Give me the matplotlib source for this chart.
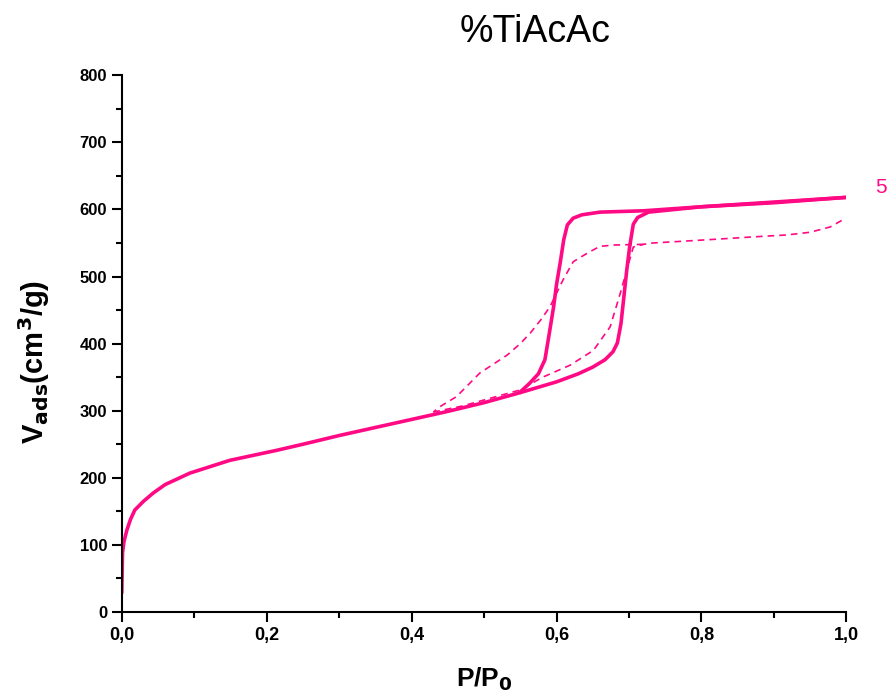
import numpy as np
import matplotlib.pyplot as plt
from matplotlib.ticker import MultipleLocator, FuncFormatter

# isoterma solida (adsorcion + desorcion)
ads_x = [0, 0.001, 0.003, 0.007, 0.012, 0.018, 0.03, 0.043, 0.06, 0.094, 0.149, 0.214,
         0.25, 0.3, 0.35, 0.4, 0.45, 0.5, 0.55, 0.6, 0.63, 0.65, 0.667, 0.678, 0.684,
         0.689, 0.693, 0.697, 0.701, 0.706, 0.712, 0.727, 0.8, 0.9, 1.0]
ads_y = [30, 88, 105, 122, 138, 152, 165, 177, 190, 207, 226, 241,
         250, 263, 275, 287, 299, 312, 327, 343, 355, 365, 376, 388, 401,
         430, 470, 510, 545, 578, 588, 596, 604, 611, 618]

des_x = [1.0, 0.9, 0.8, 0.72, 0.66, 0.635, 0.623, 0.615, 0.61, 0.605, 0.60,
         0.596, 0.59, 0.584, 0.575, 0.563, 0.55]
des_y = [618, 610, 604, 598, 596, 592, 587, 577, 555, 520, 488,
         455, 415, 376, 355, 341, 328]

# isoterma punteada
ads2_x = [0.43, 0.47, 0.5, 0.55, 0.581, 0.619, 0.651, 0.674, 0.688, 0.697, 0.706,
          0.72, 0.733, 0.78, 0.826, 0.87, 0.918, 0.95, 0.978, 0.999]
ads2_y = [298, 307, 316, 331, 350, 368, 390, 425, 475, 510, 544,
          548, 550, 553, 556, 559, 562, 566, 574, 587]

des2_x = [0.72, 0.68, 0.66, 0.646, 0.635, 0.623, 0.609, 0.6, 0.591, 0.578, 0.564,
          0.55, 0.532, 0.494, 0.462, 0.439, 0.43]
des2_y = [548, 547, 545, 537, 530, 522, 495, 475, 455, 435, 416,
          400, 383, 356, 321, 306, 298]

color = '#FF0A84'

fig = plt.figure(figsize=(8.89, 6.97), dpi=100)
ax = fig.add_axes([0.137, 0.122, 0.815, 0.770])

ax.plot(ads_x, ads_y, color=color, lw=2.6, solid_joinstyle='round')
ax.plot(des_x, des_y, color=color, lw=2.6, solid_joinstyle='round')
ax.plot(ads2_x, ads2_y, color=color, lw=1.2, ls=(0, (4, 3)))
ax.plot(des2_x, des2_y, color=color, lw=1.2, ls=(0, (4, 3)))

ax.set_xlim(0, 1.0)
ax.set_ylim(0, 800)
ax.spines['top'].set_visible(False)
ax.spines['right'].set_visible(False)
ax.spines['left'].set_linewidth(1.5)
ax.spines['bottom'].set_linewidth(1.5)

ax.xaxis.set_major_locator(MultipleLocator(0.2))
ax.xaxis.set_minor_locator(MultipleLocator(0.1))
ax.yaxis.set_major_locator(MultipleLocator(100))
ax.yaxis.set_minor_locator(MultipleLocator(50))
ax.xaxis.set_major_formatter(FuncFormatter(lambda v, p: f"{v:.1f}".replace('.', ',')))
ax.tick_params(which='major', direction='out', length=7, width=1.5)
ax.tick_params(which='minor', direction='out', length=4, width=1.5)
for lbl in ax.get_xticklabels():
    lbl.set_fontweight('bold')
    lbl.set_family(['Liberation Sans Narrow', 'Liberation Sans'])
    lbl.set_fontsize(13)
for lbl in ax.get_yticklabels():
    lbl.set_fontweight('bold')
    lbl.set_family('Liberation Sans')
    lbl.set_fontsize(12)

ax.set_xlabel('P/P$_\\mathbf{0}$', fontsize=19, fontweight='bold', family='Liberation Sans', labelpad=16)
ax.set_ylabel('V$_{\\mathbf{ads}}$(cm$^\\mathbf{3}$/g)', fontsize=21, fontweight='bold',
              family='Liberation Sans')
ax.yaxis.set_label_coords(-0.097, 0.465)
ax.set_title('%TiAcAc', fontsize=27, family='Liberation Sans', pad=24, x=0.57)

ax.text(1.04, 618, '5', color=color, fontsize=15, family='Liberation Sans',
        va='bottom', ha='left', clip_on=False)

fig.savefig('out.png', dpi=100)
